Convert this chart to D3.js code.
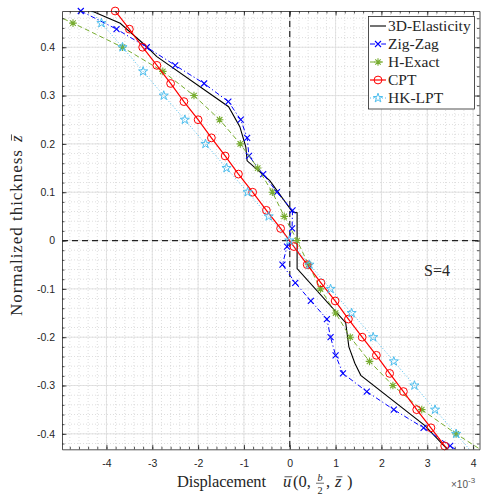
<!DOCTYPE html>
<html>
<head>
<meta charset="UTF-8">
<script src="https://d3js.org/d3.v7.min.js"></script>
<style>
    body {
        margin: 0;
        background: #fff;
    }

    svg {
        display: block;
    }

    .axis text {
        font-family: "Liberation Sans", Arial, sans-serif;
        font-size: 10.5px;
        fill: #262626;
    }

    .axis path,
    .axis line {
        stroke: #262626;
        stroke-width: 0.8;
    }
</style>
</head>
<body>
<svg id="chart" width="484" height="500"></svg>
<script>
    // thickness coordinates (two sampling grids) and displacement values (x 1e-3)
    const zFine = [0.475, 0.4375, 0.4, 0.3625, 0.325, 0.2875, 0.25, 0.2125, 0.175, 0.1375, 0.1, 0.0625, 0.025,
        -0.0125, -0.05, -0.0875, -0.125, -0.1625, -0.2, -0.2375, -0.275, -0.3125, -0.35, -0.3875, -0.425, -0.4625, -0.5];
    const zCoarse = [0.5, 0.45, 0.4, 0.35, 0.3, 0.25, 0.2, 0.15, 0.1, 0.05, 0,
        -0.05, -0.1, -0.15, -0.2, -0.25, -0.3, -0.35, -0.4, -0.45, -0.5];

    const cptU = [-3.81, -3.50, -3.21, -2.90, -2.60, -2.31, -2.00, -1.71, -1.41, -1.12, -0.81, -0.51, -0.20,
        0.09, 0.38, 0.68, 0.99, 1.28, 1.58, 1.89, 2.18, 2.48, 2.77, 3.08, 3.38, 3.68, 3.98];
    const zigzagU = [-4.56, -3.78, -3.12, -2.50, -1.87, -1.34, -1.07, -0.93, -0.89, -0.58, -0.28, 0.06, 0.05,
        -0.06, -0.16, 0.12, 0.46, 0.81, 0.89, 1.00, 1.16, 1.68, 2.27, 2.92, 3.50, 4.12, 4.75];
    const hExactU = [-5.90, -4.73, -3.65, -2.77, -2.09, -1.53, -1.08, -0.70, -0.38, -0.12, 0.16,
        0.41, 0.67, 1.00, 1.32, 1.74, 2.25, 2.88, 3.63, 4.45, 5.40];
    const hkLptU = [-4.57, -4.11, -3.65, -3.20, -2.75, -2.29, -1.84, -1.38, -0.92, -0.46, -0.01,
        0.43, 0.89, 1.35, 1.82, 2.27, 2.72, 3.17, 3.63, 4.08, 4.54];

    const elasticityZ = [0.5, 0.475, 0.4497, 0.401, 0.3805, 0.277, 0.2356, 0.194, 0.165, 0.124, 0.059, 0.0576,
        -0.058, -0.170, -0.220, -0.254, -0.279, -0.383, -0.419, -0.5];
    const elasticityU = [-4.94, -4.32, -3.70, -3.12, -2.90, -1.335, -1.09, -0.96, -0.93, -0.436, 0.06, 0.16,
        0.16, 1.22, 1.29, 1.42, 1.55, 2.95, 3.31, 4.12];

    const seriesNames = ["3D-Elasticity", "Zig-Zag", "H-Exact", "CPT", "HK-LPT"];
    const xTickValues = [-4, -3, -2, -1, 0, 1, 2, 3, 4];
    const yTickValues = [-0.4, -0.3, -0.2, -0.1, 0, 0.1, 0.2, 0.3, 0.4];

    const serif = "Liberation Serif, Times New Roman, serif";
    const ink = "#262626";
    const svg = d3.select("#chart");
    const pLeft = 62, pRight = 479.5, pTop = 11, pBottom = 449.3;

    const x = d3.scaleLinear().domain([-4.97, 4.14]).range([pLeft, pRight]);
    const y = d3.scaleLinear().domain([-0.432, 0.475]).range([pBottom, pTop]);

    const xMinor = x.ticks(45);
    const yMinor = y.ticks(45);

    // grid
    const grid = svg.append("g");
    grid.selectAll(".gx2").data(xMinor).enter().append("line")
        .attr("x1", d => x(d)).attr("x2", d => x(d)).attr("y1", pTop).attr("y2", pBottom)
        .attr("stroke", "#c8c8c8").attr("stroke-width", 0.6).attr("stroke-dasharray", "1,2");
    grid.selectAll(".gy2").data(yMinor).enter().append("line")
        .attr("y1", d => y(d)).attr("y2", d => y(d)).attr("x1", pLeft).attr("x2", pRight)
        .attr("stroke", "#c8c8c8").attr("stroke-width", 0.6).attr("stroke-dasharray", "1,2");
    grid.selectAll(".gx").data(xTickValues).enter().append("line")
        .attr("x1", d => x(d)).attr("x2", d => x(d)).attr("y1", pTop).attr("y2", pBottom)
        .attr("stroke", "#dcdcdc").attr("stroke-width", 0.8);
    grid.selectAll(".gy").data(yTickValues).enter().append("line")
        .attr("y1", d => y(d)).attr("y2", d => y(d)).attr("x1", pLeft).attr("x2", pRight)
        .attr("stroke", "#dcdcdc").attr("stroke-width", 0.8);

    // zero lines
    svg.append("line").attr("x1", x(0)).attr("x2", x(0)).attr("y1", pTop).attr("y2", pBottom)
        .attr("stroke", "#222").attr("stroke-width", 1.2).attr("stroke-dasharray", "6,4");
    svg.append("line").attr("y1", y(0)).attr("y2", y(0)).attr("x1", pLeft).attr("x2", pRight)
        .attr("stroke", "#222").attr("stroke-width", 1.2).attr("stroke-dasharray", "6,4");

    svg.append("clipPath").attr("id", "plot-clip").append("rect")
        .attr("x", pLeft).attr("y", pTop).attr("width", pRight - pLeft).attr("height", pBottom - pTop);

    function drawMarker(g, type, cx, cy, color) {
        if (type === "circle") {
            g.append("circle").attr("cx", cx).attr("cy", cy).attr("r", 3.9)
                .attr("fill", "none").attr("stroke", color).attr("stroke-width", 1);
        } else if (type === "x") {
            const s = 3;
            g.append("path").attr("d", `M${cx - s},${cy - s}L${cx + s},${cy + s}M${cx - s},${cy + s}L${cx + s},${cy - s}`)
                .attr("stroke", color).attr("stroke-width", 1.1).attr("fill", "none");
        } else if (type === "asterisk") {
            const s = 3.8, t = s * 0.72;
            g.append("path").attr("d", `M${cx - s},${cy}L${cx + s},${cy}M${cx},${cy - s}L${cx},${cy + s}` +
                `M${cx - t},${cy - t}L${cx + t},${cy + t}M${cx - t},${cy + t}L${cx + t},${cy - t}`)
                .attr("stroke", color).attr("stroke-width", 1.1).attr("fill", "none");
        } else if (type === "star") {
            g.append("path").attr("d", d3.symbol(d3.symbolStar, 26)())
                .attr("transform", `translate(${cx},${cy})`)
                .attr("fill", "none").attr("stroke", color).attr("stroke-width", 1);
        }
    }

    const series = [
        { name: seriesNames[0], z: elasticityZ, u: elasticityU, color: "#000000", dash: null, marker: null, width: 1.1 },
        { name: seriesNames[1], z: zFine, u: zigzagU, color: "#0000ff", dash: "5,2.5,1.2,2.5", marker: "x", width: 1 },
        { name: seriesNames[2], z: zCoarse, u: hExactU, color: "#77ac30", dash: "5,3", marker: "asterisk", width: 1 },
        { name: seriesNames[3], z: zFine, u: cptU, color: "#ff0000", dash: null, marker: "circle", width: 1.2 },
        { name: seriesNames[4], z: zCoarse, u: hkLptU, color: "#4dbeee", dash: "1,2", marker: "star", width: 1 }
    ];

    const line = d3.line().x(d => x(d.u)).y(d => y(d.z));
    const [zLo, zHi] = y.domain();
    const [uLo, uHi] = x.domain();

    series.forEach(s => {
        const pts = s.z.map((z, i) => ({ z: z, u: s.u[i] }));
        svg.append("path").datum(pts)
            .attr("clip-path", "url(#plot-clip)")
            .attr("d", line)
            .attr("fill", "none")
            .attr("stroke", s.color)
            .attr("stroke-width", s.width)
            .attr("stroke-dasharray", s.dash);
        if (s.marker) {
            const mg = svg.append("g");
            pts.filter(p => p.z <= zHi + 1e-9 && p.z >= zLo && p.u >= uLo && p.u <= uHi)
                .forEach(p => drawMarker(mg, s.marker, x(p.u), y(p.z), s.color));
        }
    });

    // axes (ticks pointing inward, on all four sides)
    const fmtX = d => String(d);
    const fmtY = d => d === 0 ? "0" : d.toFixed(1);
    svg.append("g").attr("class", "axis").attr("transform", `translate(0,${pBottom})`)
        .call(d3.axisBottom(x).tickValues(xTickValues).tickSize(-4.5).tickSizeOuter(0).tickPadding(10).tickFormat(fmtX));
    svg.append("g").attr("class", "axis").attr("transform", `translate(${pLeft},0)`)
        .call(d3.axisLeft(y).tickValues(yTickValues).tickSize(-4.5).tickSizeOuter(0).tickPadding(7).tickFormat(fmtY));
    svg.append("g").attr("class", "axis").attr("transform", `translate(0,${pTop})`)
        .call(d3.axisTop(x).tickValues(xTickValues).tickSize(-4.5).tickSizeOuter(0).tickFormat(""));
    svg.append("g").attr("class", "axis").attr("transform", `translate(${pRight},0)`)
        .call(d3.axisRight(y).tickValues(yTickValues).tickSize(-4.5).tickSizeOuter(0).tickFormat(""));

    [["axisBottom", pBottom, xMinor], ["axisTop", pTop, xMinor]].forEach(([fn, pos, vals]) => {
        const g = svg.append("g").attr("class", "axis").attr("transform", `translate(0,${pos})`)
            .call(d3[fn](x).tickValues(vals).tickSize(-2.5).tickFormat(""));
        g.select(".domain").remove();
    });
    [["axisLeft", pLeft, yMinor], ["axisRight", pRight, yMinor]].forEach(([fn, pos, vals]) => {
        const g = svg.append("g").attr("class", "axis").attr("transform", `translate(${pos},0)`)
            .call(d3[fn](y).tickValues(vals).tickSize(-2.5).tickFormat(""));
        g.select(".domain").remove();
    });

    // legend
    const lg = svg.append("g");
    lg.append("rect").attr("x", 368.5).attr("y", 16.5).attr("width", 106).attr("height", 92.5)
        .attr("fill", "#fff").attr("stroke", ink).attr("stroke-width", 0.8);
    series.forEach((s, i) => {
        const ly = 26 + i * 18;
        lg.append("line").attr("x1", 370).attr("x2", 386).attr("y1", ly).attr("y2", ly)
            .attr("stroke", s.color).attr("stroke-width", s.width).attr("stroke-dasharray", s.dash);
        if (s.marker) drawMarker(lg, s.marker, 378, ly, s.color);
        lg.append("text").attr("font-family", serif).attr("fill", ink).attr("x", 388).attr("y", ly + 5)
            .attr("font-size", "15.5px").text(s.name);
    });

    svg.append("text").attr("font-family", serif).attr("fill", ink).attr("x", 437).attr("y", 276)
        .attr("text-anchor", "middle").attr("font-size", "16px").text("S=4");

    // math-style label pieces: {t, x, it, bar, len} or {frac, x}
    function mathLabel(g, parts, size) {
        parts.forEach(p => {
            if (p.frac) {
                const fs = size * 0.62;
                g.append("text").attr("font-family", serif).attr("fill", ink).attr("font-size", fs + "px")
                    .attr("font-style", "italic").attr("x", p.x).attr("y", -size * 0.36)
                    .attr("text-anchor", "middle").text(p.frac[0]);
                g.append("text").attr("font-family", serif).attr("fill", ink).attr("font-size", fs + "px")
                    .attr("x", p.x).attr("y", size * 0.42).attr("text-anchor", "middle").text(p.frac[1]);
                g.append("line").attr("x1", p.x - 4).attr("x2", p.x + 4).attr("y1", -size * 0.23).attr("y2", -size * 0.23)
                    .attr("stroke", ink).attr("stroke-width", 0.7);
                return;
            }
            const t = g.append("text").attr("font-family", serif).attr("fill", ink).attr("font-size", size + "px")
                .attr("x", p.x).attr("y", 0).attr("font-style", p.it ? "italic" : "normal").text(p.t);
            if (p.len) t.attr("textLength", p.len).attr("lengthAdjust", "spacing");
            if (p.bar) {
                const w = t.node().getComputedTextLength();
                g.append("line").attr("x1", p.x + 1.5).attr("x2", p.x + w + 1)
                    .attr("y1", -size * 0.62).attr("y2", -size * 0.62)
                    .attr("stroke", ink).attr("stroke-width", 0.8);
            }
        });
    }

    const xl = svg.append("g").attr("transform", "translate(177,487)");
    mathLabel(xl, [
        { t: "Displacement", x: 0, len: 89 },
        { t: "u", x: 106, it: true, bar: true },
        { t: "(0,", x: 116 },
        { frac: ["b", "2"], x: 143 },
        { t: ",", x: 149 },
        { t: "z", x: 158, it: true, bar: true },
        { t: ")", x: 170 }
    ], 16.5);

    const yl = svg.append("g").attr("transform", "translate(22,316) rotate(-90)");
    mathLabel(yl, [
        { t: "Normalized thickness", x: 0, len: 166 },
        { t: "z", x: 174, it: true, bar: true }
    ], 17);

    const ex = svg.append("text").attr("x", 451).attr("y", 488)
        .attr("font-family", "Liberation Sans, Arial, sans-serif").attr("font-size", "10px").attr("fill", "#555");
    ex.append("tspan").text("×10");
    ex.append("tspan").attr("dy", -5).attr("font-size", "8px").text("-3");
</script>
</body>
</html>
